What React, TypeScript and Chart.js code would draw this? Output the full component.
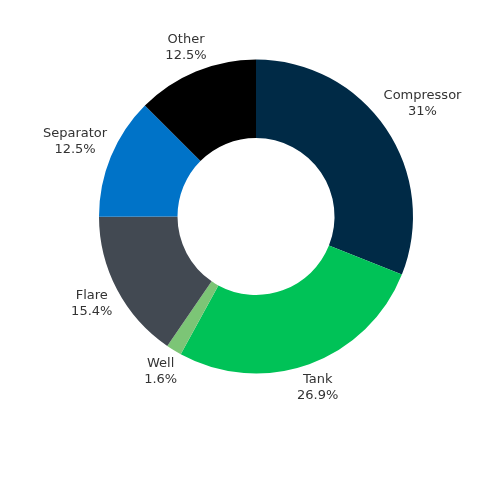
import { useEffect, useRef } from "react"
import { Chart, registerables, Plugin } from "chart.js"

Chart.register(...registerables)

const categories = ["Compressor", "Tank", "Well", "Flare", "Separator", "Other"]
const shares = [31, 26.9, 1.6, 15.4, 12.5, 12.5]
const sliceColors = ["#002a46", "#00c257", "#7cc576", "#424952", "#0073c8", "#000000"]

const FONT = "13px 'DejaVu Sans', sans-serif"
const LINE_H = 16

// draws "name\nvalue%" just outside each slice, pushed out along the slice's middle ray
const outsideLabels: Plugin<"doughnut"> = {
  id: "outsideLabels",
  afterDatasetsDraw(chart) {
    const ctx = chart.ctx
    const meta = chart.getDatasetMeta(0)
    ctx.save()
    ctx.font = FONT
    ctx.fillStyle = "#333333"
    ctx.textAlign = "center"
    ctx.textBaseline = "middle"
    meta.data.forEach((el, i) => {
      const arc = el as any
      const mid = (arc.startAngle + arc.endAngle) / 2
      const dx = Math.cos(mid)
      const dy = Math.sin(mid)
      const lines = [categories[i], shares[i] + "%"]
      const w = Math.max(...lines.map((l) => ctx.measureText(l).width))
      const h = lines.length * LINE_H
      const dist = arc.outerRadius + 3 + (w / 2) * Math.abs(dx) + (h / 2) * Math.abs(dy)
      const cx = arc.x + dist * dx
      const cy = arc.y + dist * dy
      lines.forEach((l, j) => {
        ctx.fillText(l, cx, cy - h / 2 + LINE_H / 2 + j * LINE_H)
      })
    })
    ctx.restore()
  },
}

export default function App() {
  const chartRef = useRef<HTMLCanvasElement>(null)
  const chartInstance = useRef<Chart | null>(null)

  useEffect(() => {
    document.body.style.margin = "0"
    if (!chartRef.current) return
    if (chartInstance.current) {
      chartInstance.current.destroy()
    }
    const ctx = chartRef.current.getContext("2d")
    if (!ctx) return

    chartInstance.current = new Chart(ctx, {
      type: "doughnut",
      data: {
        labels: categories,
        datasets: [
          {
            data: shares,
            backgroundColor: sliceColors,
            borderWidth: 0,
            hoverOffset: 0,
          },
        ],
      },
      options: {
        animation: false,
        responsive: false,
        cutout: "50%",
        layout: {
          padding: { left: 99, right: 87, top: 59, bottom: 126 },
        },
        plugins: {
          legend: { display: false },
          tooltip: { enabled: false },
        },
      },
      plugins: [outsideLabels],
    })

    return () => {
      if (chartInstance.current) {
        chartInstance.current.destroy()
        chartInstance.current = null
      }
    }
  }, [])

  return (
    <div style={{ width: 500, height: 500 }}>
      <canvas ref={chartRef} width={500} height={500}></canvas>
    </div>
  )
}
